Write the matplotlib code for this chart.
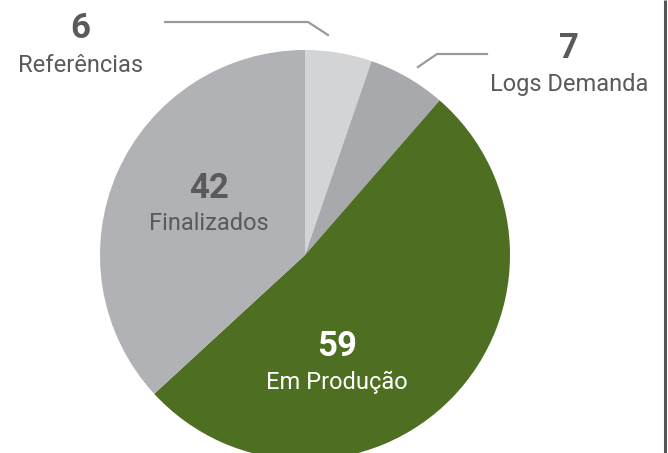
import matplotlib.pyplot as plt
from matplotlib import font_manager

categories = ['Referências', 'Logs Demanda', 'Em Produção', 'Finalizados']
values = [6, 7, 59, 42]
colors = ['#d3d4d6', '#a8a9ac', '#4e6e22', '#b0b2b5']

names = {f.name for f in font_manager.fontManager.ttflist}
fam = 'Liberation Sans Narrow' if 'Liberation Sans Narrow' in names else 'Roboto'
plt.rcParams['font.family'] = [fam, 'DejaVu Sans']

W, H = 668, 453
fig = plt.figure(figsize=(W / 100, H / 100), dpi=100)
ax = fig.add_axes([0, 0, 1, 1])

cx, cy, r = 305, H - 255, 205
ax.pie(values, colors=colors, startangle=90, counterclock=False,
       radius=r, center=(cx, cy), frame=True,
       wedgeprops=dict(linewidth=0))
ax.set_xlim(0, W)
ax.set_ylim(0, H)
ax.set_aspect('equal')
ax.axis('off')

txt = '#5a5a5c'
line_c = '#9a9a9c'

# outside labels with leader lines
ax.plot([165, 308, 328], [H - 22, H - 22, H - 35], color=line_c, lw=1.6)
ax.plot([487, 437, 418], [H - 54, H - 54, H - 67], color=line_c, lw=1.6)

def label(x, y, num, name, color):
    ax.text(x, H - y, str(num), ha='center', va='center', fontsize=25,
            fontweight='bold', color=color)
    ax.text(x, H - y - 36, name, ha='center', va='center', fontsize=17,
            color=color)

label(80, 29, values[0], categories[0], txt)
label(569, 49, values[1], categories[1], txt)
label(337, 346, values[2], categories[2], 'white')
label(209, 188, values[3], categories[3], txt)

# right border line
ax.plot([665, 665], [0, H], color='#555555', lw=2.2, solid_capstyle='butt')

fig.savefig('out.png', dpi=100)
